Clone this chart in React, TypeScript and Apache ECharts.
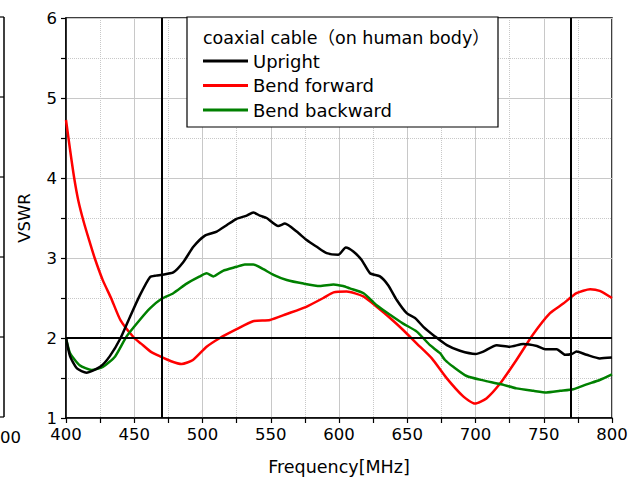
import React, { useEffect, useRef } from "react";
import * as echarts from "echarts";

const uprightFreq = [400, 403, 408, 415, 425, 432, 440, 447, 454, 461.5, 466, 470, 478.6, 486, 493.3, 501.8, 510.4, 517.7, 525, 532.4, 537.2, 542, 547, 555.5, 560.4, 569, 576.3, 583.7, 591, 599.5, 605, 610.5, 616.6, 622.7, 630, 636, 642.3, 649.6, 655.7, 661.8, 670.3, 679, 688.6, 700, 705.7, 715.5, 725, 735, 745, 751, 759.5, 765.6, 770.5, 774, 781.4, 791, 800];
const uprightVswr = [2.0, 1.77, 1.62, 1.567, 1.64, 1.77, 2.0, 2.27, 2.53, 2.76, 2.78, 2.79, 2.82, 2.95, 3.14, 3.28, 3.33, 3.41, 3.49, 3.53, 3.57, 3.53, 3.5, 3.4, 3.43, 3.33, 3.225, 3.14, 3.06, 3.04, 3.13, 3.08, 2.975, 2.81, 2.77, 2.66, 2.475, 2.31, 2.25, 2.14, 2.02, 1.91, 1.84, 1.8, 1.83, 1.91, 1.89, 1.925, 1.9, 1.86, 1.86, 1.79, 1.8, 1.83, 1.79, 1.745, 1.755];

const forwardFreq = [400, 403, 406, 409, 413, 417, 421, 427, 433, 440, 450, 455, 462, 469, 477, 484.7, 493, 503, 512.8, 525, 537, 549.5, 561.7, 576, 588.5, 596, 605.6, 617.8, 627.6, 637.4, 647, 657, 668, 679, 691, 699.6, 708, 718, 730, 742, 754.6, 764.3, 774, 784, 791, 800];
const forwardVswr = [4.725, 4.35, 4.0, 3.72, 3.45, 3.22, 3.0, 2.72, 2.5, 2.22, 2.0, 1.93, 1.83, 1.77, 1.71, 1.675, 1.725, 1.89, 2.0, 2.11, 2.21, 2.225, 2.3, 2.39, 2.5, 2.57, 2.58, 2.52, 2.39, 2.25, 2.1, 1.93, 1.745, 1.495, 1.27, 1.18, 1.245, 1.43, 1.725, 2.04, 2.31, 2.43, 2.56, 2.61, 2.59, 2.5];

const backwardFreq = [400, 403, 410, 418.8, 427, 436, 444.4, 454, 461.5, 470, 478.6, 488.4, 498, 503, 508, 515, 525, 531, 537.2, 544.6, 552, 561.7, 574, 586, 596, 603, 608, 618, 627.6, 637.4, 647, 657, 666.7, 674, 677.7, 683.7, 693.5, 705.7, 718, 730, 742.4, 752, 762, 771.7, 781.4, 791, 800];
const backwardVswr = [2.0, 1.81, 1.66, 1.6, 1.64, 1.77, 2.02, 2.225, 2.37, 2.49, 2.56, 2.68, 2.77, 2.81, 2.77, 2.84, 2.89, 2.92, 2.92, 2.86, 2.79, 2.725, 2.68, 2.65, 2.67, 2.65, 2.62, 2.56, 2.41, 2.29, 2.18, 2.08, 1.91, 1.81, 1.725, 1.64, 1.525, 1.47, 1.425, 1.37, 1.34, 1.32, 1.34, 1.36, 1.42, 1.475, 1.545];

const seriesNames = ["Upright", "Bend forward", "Bend backward"];
const legendTitle = "coaxial cable（on human body）";
const markFreqs = [470, 770];
const markVswr = 2;

const zip = (xs: number[], ys: number[]) => xs.map((x, i) => [x, ys[i]]);

const FONT = "'DejaVu Sans', 'Noto Sans CJK JP', sans-serif";

export default function App() {
  const ref = useRef<HTMLDivElement>(null);
  useEffect(() => {
    document.body.style.margin = "0";
    const chart = echarts.init(ref.current!, null, { renderer: "svg" });
    const gridColor = "#c8c8c8";
    chart.setOption({
      animation: false,
      textStyle: { fontFamily: FONT },
      grid: { left: 66, right: 21, top: 18, bottom: 64, show: true, borderColor: "#000", borderWidth: 1.5, backgroundColor: "transparent" },
      xAxis: {
        type: "value",
        min: 400,
        max: 800,
        interval: 50,
        name: "Frequency[MHz]",
        nameLocation: "middle",
        nameGap: 40,
        nameTextStyle: { fontSize: 17.5, color: "#000", fontFamily: FONT },
        axisLine: { lineStyle: { color: "#000", width: 1.5 } },
        axisTick: { length: 5, lineStyle: { color: "#000", width: 1.2 } },
        minorTick: { show: true, splitNumber: 2, length: 5, lineStyle: { color: "#000", width: 1.2 } },
        axisLabel: { fontSize: 16.5, color: "#000", margin: 8, fontFamily: FONT },
        splitLine: { show: true, lineStyle: { color: gridColor, width: 1 } },
        minorSplitLine: { show: true, lineStyle: { color: gridColor, width: 1, type: "dotted" } },
      },
      yAxis: {
        type: "value",
        min: 1,
        max: 6,
        interval: 1,
        name: "VSWR",
        nameLocation: "middle",
        nameGap: 33,
        nameTextStyle: { fontSize: 16.5, color: "#000", fontFamily: FONT },
        axisLine: { show: true, lineStyle: { color: "#000", width: 1.5 } },
        axisTick: { show: true, length: 5, lineStyle: { color: "#000", width: 1.2 } },
        minorTick: { show: true, splitNumber: 2, length: 5, lineStyle: { color: "#000", width: 1.2 } },
        axisLabel: { fontSize: 16.5, color: "#000", margin: 9, fontFamily: FONT },
        splitLine: { show: true, lineStyle: { color: gridColor, width: 1 } },
        minorSplitLine: { show: true, lineStyle: { color: gridColor, width: 1, type: "dotted" } },
      },
      legend: {
        orient: "vertical",
        left: 203,
        top: 49,
        padding: 0,
        z: 10,
        icon: "rect",
        itemWidth: 45,
        itemHeight: 3,
        itemGap: 0.5,
        data: seriesNames,
        textStyle: { fontSize: 18, color: "#000", lineHeight: 24, fontFamily: FONT },
      },
      graphic: [
        { type: "rect", shape: { x: 187, y: 17, width: 311, height: 110 }, style: { fill: "#fff", stroke: "#000", lineWidth: 1.2 }, z: 1 },
        { type: "text", x: 203, y: 38, style: { text: legendTitle, fontSize: 17.5, fill: "#000", fontFamily: FONT, verticalAlign: "middle" }, z: 11 },
        { type: "line", shape: { x1: 4, y1: 17, x2: 4, y2: 417 }, style: { stroke: "#000", lineWidth: 1.5 } },
        ...[17, 97, 177, 257, 337, 417].map((y) => ({ type: "line", shape: { x1: 0, y1: y, x2: 4, y2: y }, style: { stroke: "#000", lineWidth: 1.2 } })),
        { type: "text", x: 0, y: 437, style: { text: "00", fontSize: 16.5, fill: "#000", fontFamily: FONT, align: "left", verticalAlign: "middle" } },
      ],
      series: [
        {
          name: seriesNames[0],
          type: "line",
          data: zip(uprightFreq, uprightVswr),
          symbol: "none",
          smooth: 0.2,
          lineStyle: { color: "#000", width: 2.5 },
          itemStyle: { color: "#000" },
          z: 3,
          markLine: {
            silent: true,
            symbol: "none",
            label: { show: false },
            lineStyle: { color: "#000", width: 2, type: "solid" },
            data: [...markFreqs.map((f) => ({ xAxis: f })), { yAxis: markVswr }],
          },
        },
        {
          name: seriesNames[1],
          type: "line",
          data: zip(forwardFreq, forwardVswr),
          symbol: "none",
          smooth: 0.2,
          lineStyle: { color: "#ff0000", width: 2.5 },
          itemStyle: { color: "#ff0000" },
          z: 2,
        },
        {
          name: seriesNames[2],
          type: "line",
          data: zip(backwardFreq, backwardVswr),
          symbol: "none",
          smooth: 0.2,
          lineStyle: { color: "#008000", width: 2.5 },
          itemStyle: { color: "#008000" },
          z: 2,
        },
      ],
    });
    return () => chart.dispose();
  }, []);
  return <div ref={ref} style={{ width: 633, height: 482 }} />;
}
